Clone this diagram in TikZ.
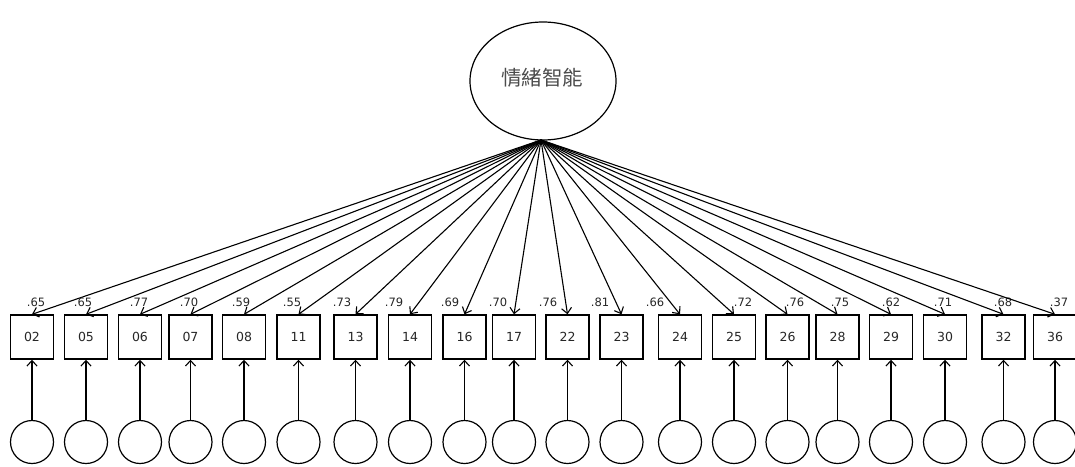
\documentclass[tikz,border=0pt]{standalone}
\usepackage{fontspec}
\setmainfont{DejaVu Sans}
\newfontfamily\cjk{Noto Sans CJK TC}
\usetikzlibrary{arrows.meta,shapes.geometric}
\tikzset{
  every picture/.style={x=1pt,y=-1pt},
  latent/.style={draw,line width=1.2pt,ellipse,minimum width=146pt,minimum height=118pt,inner sep=0pt},
  obs/.style={draw,line width=1.4pt,minimum width=43pt,minimum height=44pt,inner sep=0pt,font=\fontsize{12.5}{14}\selectfont,text=black!85},
  err/.style={draw,line width=1.2pt,circle,minimum size=43pt,inner sep=0pt},
  load/.style={line width=1.1pt,-{Straight Barb[length=5.5pt,width=10pt]}},
  lbl/.style={font=\fontsize{11.5}{13}\selectfont,inner sep=0pt,text=black!85}
}
\begin{document}
\begin{tikzpicture}
\useasboundingbox (0,0) rectangle (1075,466);
\node[latent] (eq) at (543,81) {};
\node[font=\cjk\fontsize{20.5}{22}\selectfont,text=black!70,inner sep=0pt] (eqt) at (542,78) {情緒智能};
\coordinate (apex) at (541,140);
\foreach \n/\x/\v/\lx in {02/32/.65/36, 05/86/.65/83, 06/140/.77/139, 07/190.5/.70/189, 08/244/.59/241, 11/298.5/.55/292, 13/355.5/.73/342, 14/410/.79/394, 16/464.5/.69/450, 17/514/.70/498, 22/567.5/.76/548, 23/621.5/.81/600, 24/680/.66/655, 25/734/.72/743, 26/787.5/.76/795, 28/837.5/.75/840, 29/891/.62/891, 30/945/.71/943, 32/1003.5/.68/1003, 36/1055/.37/1059}{
  \node[obs] (b\n) at (\x,337) {\n};
  \node[err] (e\n) at (\x,442) {};
  \node[lbl] (l\n) at (\lx,302) {\v};
  \draw[load] (e\n.north) -- (b\n.south);
  \draw[load] (apex) -- (b\n.north);
}
\end{tikzpicture}
\end{document}
